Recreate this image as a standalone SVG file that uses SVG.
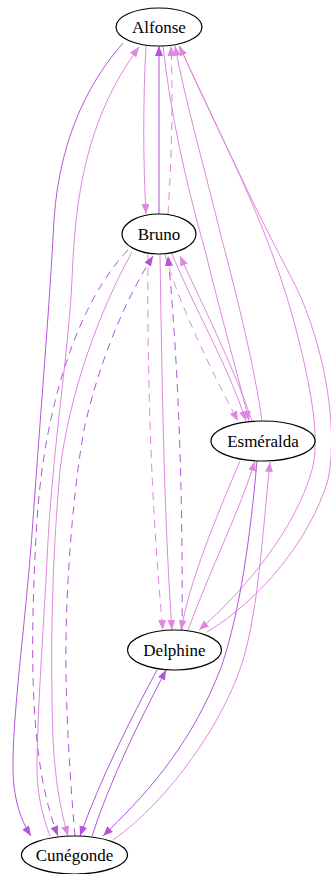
<svg xmlns="http://www.w3.org/2000/svg" width="331" height="874" viewBox="0 0 331 874">
<style>
.node ellipse{fill:#fff;stroke:#000;stroke-width:1.2}
.node text{font-family:"Liberation Serif","Times New Roman",serif;font-size:17px;text-anchor:middle;fill:#000}
.e{fill:none;stroke-width:1}
.l{stroke:#e088e0;marker-end:url(#al)}
.d{stroke:#b455d8;marker-end:url(#ad)}
.ds{stroke-dasharray:8,6}
</style>
<defs>
<marker id="al" markerWidth="10" markerHeight="8" refX="10" refY="4" orient="auto" markerUnits="userSpaceOnUse"><path d="M0,0 L10,4 L0,8 z" fill="#e088e0"/></marker>
<marker id="ad" markerWidth="10" markerHeight="8" refX="10" refY="4" orient="auto" markerUnits="userSpaceOnUse"><path d="M0,0 L10,4 L0,8 z" fill="#b455d8"/></marker>
</defs>
<rect width="331" height="874" fill="#fff"/>
<g id="edges">
<path class="e d" d="M123,43 C95,75 60,130 54,220 C50,300 40,420 33,520 C26,620 14,700 13,760 C12,800 22,822 31,836"/>
<path class="e l" d="M50,836 C42,815 36,790 37,760 C38,700 44,620 47,560 C52,450 68,360 72,280 C75,200 85,120 139,47"/>
<path class="e l" d="M146,46 C143,100 143,160 146,214"/>
<path class="e d" d="M159,214 L159,46"/>
<path class="e l ds" d="M168,214 C172,150 173,100 171,46"/>
<path class="e l" d="M163,46 C170,110 185,180 205,250 C222,320 238,375 249,421"/>
<path class="e l" d="M262,421 C255,370 238,300 222,240 C205,170 185,100 175,46"/>
<path class="e l" d="M180,46 C215,130 270,220 300,345 C312,395 320,440 312,470 C295,530 245,590 199,630"/>
<path class="e l" d="M207,632 C260,600 310,540 328,480 C340,420 320,330 290,275 C250,200 215,120 179,46"/>
<path class="e l ds" d="M165,255 C175,290 200,350 238,421"/>
<path class="e l" d="M252,421 C235,370 205,310 180,256"/>
<path class="e l" d="M172,254 C195,310 228,365 246,421"/>
<path class="e l ds" d="M148,254 C147,350 150,500 163,630"/>
<path class="e l" d="M160,254 C162,380 164,520 172,630"/>
<path class="e d ds" d="M182,630 C183,520 180,380 168,256"/>
<path class="e l" d="M240,461 C215,520 190,580 181,630"/>
<path class="e l" d="M188,630 C210,570 240,510 255,461"/>
<path class="e d" d="M257,461 C250,540 240,610 222,665 C190,750 140,800 103,836"/>
<path class="e l" d="M113,840 C170,800 225,720 243,660 C258,610 262,540 270,462"/>
<path class="e d" d="M157,670 C130,720 100,780 80,836"/>
<path class="e d" d="M92,836 C110,780 140,720 166,670"/>
<path class="e d ds" d="M128,250 C80,300 45,400 37,520 C30,640 28,760 58,836"/>
<path class="e d ds" d="M75,836 C70,780 65,700 66,640 C67,560 76,470 85,425 C100,360 125,300 153,256"/>
<path class="e l" d="M132,252 C100,310 70,390 60,470 C52,560 50,650 53,740 C56,790 62,815 68,836"/>
</g>
<g id="Alfonse" class="node"><ellipse cx="159" cy="27" rx="43" ry="19"/><text x="159" y="33">Alfonse</text></g>
<g id="Bruno" class="node"><ellipse cx="159" cy="234" rx="37" ry="20"/><text x="159" y="240">Bruno</text></g>
<g id="Esmeralda" class="node"><ellipse cx="263" cy="441" rx="52" ry="20"/><text x="263" y="447">Esméralda</text></g>
<g id="Delphine" class="node"><ellipse cx="174.5" cy="650" rx="47" ry="20"/><text x="174.5" y="656">Delphine</text></g>
<g id="Cunegonde" class="node"><ellipse cx="74.5" cy="855" rx="53" ry="19"/><text x="74.5" y="861">Cunégonde</text></g>
</svg>
